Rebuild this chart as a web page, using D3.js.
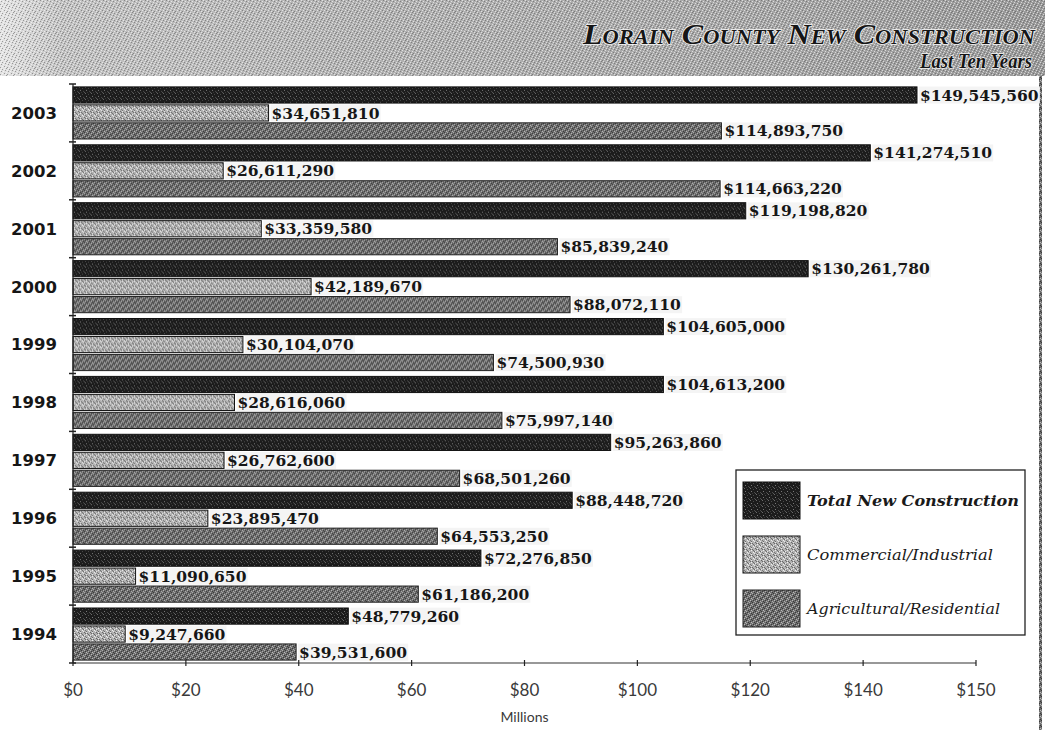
<!DOCTYPE html>
<html>
<head>
<meta charset="utf-8">
<script src="https://cdn.jsdelivr.net/npm/d3@7"></script>
<style>
  html, body { margin: 0; padding: 0; background: #ffffff; }
  svg { display: block; }
</style>
</head>
<body>
<svg id="chart" width="1045" height="730"></svg>
<script>
// ---------------- data ----------------
const years = ["2003", "2002", "2001", "2000", "1999", "1998", "1997", "1996", "1995", "1994"];
const seriesNames = ["Total New Construction", "Commercial/Industrial", "Agricultural/Residential"];
const totalNew = [149545560, 141274510, 119198820, 130261780, 104605000, 104613200, 95263860, 88448720, 72276850, 48779260];
const commercial = [34651810, 26611290, 33359580, 42189670, 30104070, 28616060, 26762600, 23895470, 11090650, 9247660];
const agricultural = [114893750, 114663220, 85839240, 88072110, 74500930, 75997140, 68501260, 64553250, 61186200, 39531600];
const tickValues = [0, 20, 40, 60, 80, 100, 120, 140, 160];
const tickLabels = ["$0", "$20", "$40", "$60", "$80", "$100", "$120", "$140", "$150"];
const titleText = "Lorain County New Construction";
const subtitleText = "Last Ten Years";
const axisTitle = "Millions";

const seriesValues = [totalNew, commercial, agricultural];
const rows = years.map((y, i) => ({
  year: y,
  values: seriesNames.map((s, k) => ({ series: s, key: k, value: seriesValues[k][i] }))
}));

// ---------------- setup ----------------
const svg = d3.select("#chart");
const W = 1045, H = 730;
const defs = svg.append("defs");

// Banner gradient
const grad = defs.append("linearGradient").attr("id", "bannerGrad").attr("x1", "0").attr("x2", "1").attr("y1", "0").attr("y2", "0");
[[0, "#e4e4e4"], [0.06, "#c2c2c2"], [0.35, "#b2b2b2"], [0.75, "#a6a6a6"], [1, "#9a9a9a"]].forEach(([o, c]) =>
  grad.append("stop").attr("offset", o).attr("stop-color", c));

// Stipple texture for banner (fixed pixel layout)
const stip = defs.append("pattern").attr("id", "stipple").attr("width", 7).attr("height", 7).attr("patternUnits", "userSpaceOnUse");
[[0,0],[3,1],[6,2],[2,3],[5,4],[1,5],[4,6]].forEach(([x, y]) => stip.append("rect").attr("x", x).attr("y", y).attr("width", 1).attr("height", 1).attr("fill", "#ffffff").attr("opacity", 0.6));
[[1,1],[4,3],[0,4],[6,5],[2,6],[5,0]].forEach(([x, y]) => stip.append("rect").attr("x", x).attr("y", y).attr("width", 1).attr("height", 1).attr("fill", "#444").attr("opacity", 0.45));

// Bar fill patterns
function makePattern(id, base, dots) {
  const p = defs.append("pattern").attr("id", id).attr("width", 6).attr("height", 6).attr("patternUnits", "userSpaceOnUse");
  p.append("rect").attr("width", 6).attr("height", 6).attr("fill", base);
  dots.forEach(([x, y, c]) => p.append("rect").attr("x", x).attr("y", y).attr("width", 1).attr("height", 1).attr("fill", c));
}
makePattern("patTotal", "#1c1c1c", [[1,0,"#6a6a6a"],[4,1,"#4a4a4a"],[2,3,"#777"],[5,4,"#4a4a4a"],[0,5,"#5a5a5a"],[3,5,"#3a3a3a"]]);
makePattern("patComm", "#b2b2b2", [[0,0,"#666"],[2,0,"#e6e6e6"],[1,1,"#6a6a6a"],[3,1,"#6a6a6a"],[4,2,"#6a6a6a"],[2,2,"#eee"],[5,3,"#6a6a6a"],[0,3,"#e6e6e6"],[1,4,"#777"],[4,4,"#eee"],[2,5,"#6a6a6a"],[5,5,"#e6e6e6"]]);
makePattern("patAgri", "#6e6e6e", [[0,0,"#adadad"],[3,0,"#3a3a3a"],[1,1,"#3a3a3a"],[4,1,"#adadad"],[2,2,"#bbb"],[5,2,"#3a3a3a"],[0,3,"#3a3a3a"],[3,3,"#adadad"],[1,4,"#bbb"],[4,4,"#3a3a3a"],[2,5,"#3a3a3a"],[5,5,"#adadad"]]);
const fills = ["url(#patTotal)", "url(#patComm)", "url(#patAgri)"];
const strokes = ["#111", "#111", "#222"];

// ---------------- banner ----------------
svg.append("rect").attr("x", 0).attr("y", 0).attr("width", W).attr("height", 76).attr("fill", "url(#bannerGrad)");
svg.append("rect").attr("x", 0).attr("y", 0).attr("width", W).attr("height", 76).attr("fill", "url(#stipple)");

svg.append("text")
  .attr("x", 1035).attr("y", 44)
  .attr("text-anchor", "end")
  .attr("font-family", "'Liberation Serif', 'DejaVu Serif', serif")
  .attr("font-weight", "bold").attr("font-style", "italic")
  .attr("font-variant", "small-caps")
  .attr("font-size", 30)
  .attr("fill", "#161616")
  .attr("stroke", "#f4f4f4").attr("stroke-width", 1.6).attr("paint-order", "stroke")
  .attr("textLength", 452).attr("lengthAdjust", "spacingAndGlyphs")
  .text(titleText);

svg.append("text")
  .attr("x", 1032).attr("y", 68)
  .attr("text-anchor", "end")
  .attr("font-family", "'Liberation Serif', 'DejaVu Serif', serif")
  .attr("font-weight", "bold").attr("font-style", "italic")
  .attr("font-size", 21)
  .attr("fill", "#161616")
  .attr("stroke", "#f4f4f4").attr("stroke-width", 1.4).attr("paint-order", "stroke")
  .attr("textLength", 112).attr("lengthAdjust", "spacingAndGlyphs")
  .text(subtitleText);

// right dotted border
svg.append("rect").attr("x", 1039).attr("y", 76).attr("width", 3).attr("height", H - 76).attr("fill", "url(#patAgri)");

// ---------------- scales ----------------
const x = d3.scaleLinear().domain([0, 160]).range([73, 976]);
const y = d3.scaleBand().domain(years).range([84, 663]).paddingInner(0.1).paddingOuter(0.05);
const ySub = d3.scaleBand().domain(d3.range(3)).range([0, y.bandwidth()]).paddingInner(0.1);
const M = 1e6;

// ---------------- bars ----------------
const groups = svg.append("g").selectAll("g").data(rows).join("g")
  .attr("transform", d => `translate(0,${y(d.year)})`);

groups.selectAll("rect").data(d => d.values).join("rect")
  .attr("x", x(0))
  .attr("y", d => ySub(d.key))
  .attr("width", d => x(d.value / M) - x(0))
  .attr("height", ySub.bandwidth())
  .attr("fill", d => fills[d.key])
  .attr("stroke", d => strokes[d.key])
  .attr("stroke-width", 1);

const fmt = d3.format(",");
const labels = groups.selectAll("g.lab").data(d => d.values).join("g").attr("class", "lab");
labels.append("rect")
  .attr("fill", "#f4f4f4");
labels.append("text")
  .attr("x", d => x(d.value / M) + 3)
  .attr("y", d => ySub(d.key) + ySub.bandwidth() / 2)
  .attr("dy", "0.36em")
  .attr("font-family", "'DejaVu Serif', serif")
  .attr("font-weight", "bold")
  .attr("font-size", 15.5)
  .attr("fill", "#161616")
  .text(d => "$" + fmt(d.value));
labels.each(function () {
  const g = d3.select(this);
  const bb = g.select("text").node().getBBox();
  g.select("rect").attr("x", bb.x - 1).attr("y", bb.y + 1).attr("width", bb.width + 2).attr("height", bb.height - 2);
});

// ---------------- axes ----------------
const xAxis = svg.append("g").attr("transform", "translate(0,663)");
xAxis.append("line").attr("x1", x(0)).attr("x2", x(160)).attr("stroke", "#333").attr("stroke-width", 1.2);
xAxis.selectAll("line.tk").data(tickValues).join("line").attr("class", "tk")
  .attr("x1", d => x(d)).attr("x2", d => x(d)).attr("y1", -3).attr("y2", 3)
  .attr("stroke", "#222").attr("stroke-width", 1.2);
xAxis.selectAll("text").data(tickValues).join("text")
  .attr("x", d => x(d)).attr("y", 33)
  .attr("text-anchor", "middle")
  .attr("font-family", "Lato, 'Open Sans', sans-serif")
  .attr("font-size", 17)
  .attr("fill", "#3a3a3a")
  .text((d, i) => tickLabels[i]);
svg.append("text")
  .attr("x", x(80)).attr("y", 722)
  .attr("text-anchor", "middle")
  .attr("font-family", "Lato, 'Open Sans', sans-serif")
  .attr("font-size", 14)
  .attr("fill", "#3a3a3a")
  .text(axisTitle);

const yAxis = svg.append("g");
yAxis.append("line").attr("x1", x(0)).attr("x2", x(0)).attr("y1", 84).attr("y2", 663).attr("stroke", "#222").attr("stroke-width", 1.2);
const boundaries = d3.range(years.length + 1).map(i => 84 + i * y.step());
yAxis.selectAll("line.tk").data(boundaries).join("line").attr("class", "tk")
  .attr("x1", x(0) - 4).attr("x2", x(0) + 3).attr("y1", d => d).attr("y2", d => d)
  .attr("stroke", "#222").attr("stroke-width", 1.5);
yAxis.selectAll("text").data(years).join("text")
  .attr("x", 57)
  .attr("y", d => y(d) + y.bandwidth() / 2)
  .attr("dy", "0.36em")
  .attr("text-anchor", "end")
  .attr("font-family", "'DejaVu Sans', sans-serif")
  .attr("font-weight", "bold")
  .attr("font-size", 16.5)
  .attr("fill", "#161616")
  .text(d => d);

// ---------------- legend ----------------
const legend = svg.append("g");
legend.append("rect").attr("x", 736).attr("y", 470).attr("width", 289).attr("height", 165)
  .attr("fill", "#ffffff").attr("stroke", "#222").attr("stroke-width", 1.3);
const legY = [482, 536, 590];
const legItems = legend.selectAll("g").data(seriesNames).join("g")
  .attr("transform", (d, i) => `translate(743,${legY[i]})`);
legItems.append("rect").attr("width", 57).attr("height", 37)
  .attr("fill", (d, i) => fills[i]).attr("stroke", (d, i) => strokes[i]).attr("stroke-width", 1);
legItems.append("text")
  .attr("x", 64).attr("y", 18.5).attr("dy", "0.36em")
  .attr("font-family", "'DejaVu Serif', serif")
  .attr("font-style", "italic")
  .attr("font-weight", (d, i) => i === 0 ? "bold" : "normal")
  .attr("font-size", 15)
  .attr("fill", "#1a1a1a")
  .attr("textLength", (d, i) => [212, 186, 193][i])
  .attr("lengthAdjust", "spacingAndGlyphs")
  .text(d => d);
</script>
</body>
</html>
